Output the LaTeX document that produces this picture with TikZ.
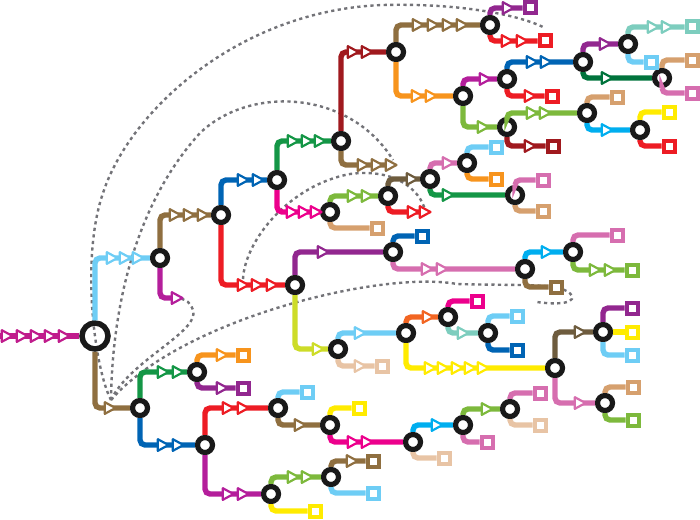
\documentclass[tikz,border=0pt]{standalone}
\usepackage{xcolor}
\usepackage{tikz}
\usetikzlibrary{calc}
\definecolor{cmag}{RGB}{192,28,140}
\definecolor{csky}{RGB}{110,205,245}
\definecolor{cbrown}{RGB}{143,111,64}
\definecolor{cdbrown}{RGB}{110,92,62}
\definecolor{cplum}{RGB}{180,30,155}
\definecolor{cblue}{RGB}{0,100,180}
\definecolor{cred}{RGB}{237,28,36}
\definecolor{cgreen}{RGB}{20,150,70}
\definecolor{cdgreen}{RGB}{0,115,60}
\definecolor{chot}{RGB}{236,0,140}
\definecolor{cdred}{RGB}{160,25,30}
\definecolor{corange}{RGB}{247,148,29}
\definecolor{cpurple}{RGB}{146,39,143}
\definecolor{colive}{RGB}{125,185,60}
\definecolor{ccyan}{RGB}{0,174,239}
\definecolor{cteal}{RGB}{125,205,190}
\definecolor{ctan}{RGB}{214,160,110}
\definecolor{cpink}{RGB}{214,110,175}
\definecolor{cyellow}{RGB}{255,235,0}
\definecolor{clime}{RGB}{205,220,40}
\definecolor{cpeach}{RGB}{232,196,165}
\definecolor{cflame}{RGB}{242,101,34}
\definecolor{dotgray}{RGB}{115,115,120}
\tikzset{
  split/.style={circle, draw=black!90, fill=white, line width=5.2pt,
    minimum size=15pt, inner sep=0pt},
  rootsplit/.style={circle, draw=black!90, line width=5.5pt,
    minimum size=26pt, inner sep=0pt},
  leaf/.style={rectangle, draw=#1, fill=white, line width=4pt,
    minimum size=11pt, inner sep=0pt},
  branch/.style={draw=#1, line width=5.4pt, rounded corners=5pt},
  transfer/.style={draw=dotgray, line width=2.4pt, dash pattern=on 3.2pt off 3.4pt},
  pics/chev/.style={code={
    \draw[draw=#1, fill=white, line width=2.2pt, line join=round]
      (-5.2,-5.8) -- (5.5,0) -- (-5.2,5.8) -- cycle;}}
}
\newcommand{\chevs}[3]{\foreach \mx in {#3}{\pic at (\mx,0 |- #2) {chev=#1};}}

\begin{document}
\begin{tikzpicture}[x=1pt, y=-1pt]
  \useasboundingbox (0,0) rectangle (700,519);

  % Ends of the transfers
  \coordinate (hub) at (111,400);
  \coordinate (in) at (0,336);
  \coordinate (a2) at (172,298);
  \coordinate (d2) at (386,165);
  \coordinate (p2) at (420,212);
  \coordinate (redtip) at (243,279);

  % Transfers
  \draw[transfer] (hub) .. controls (95,370) and (80,260) .. (103,193)
    .. controls (130,110) and (240,10) .. (383,5)
    .. controls (460,3) and (520,15) .. (545,28);
  \draw[transfer] (hub) .. controls (112,320) and (130,210) .. (200,133)
    .. controls (250,85) and (350,90) .. (393,160);
  \draw[transfer] (redtip) .. controls (245,240) and (290,185) .. (350,174)
    .. controls (395,168) and (420,190) .. (425,210);
  \draw[transfer] (hub) .. controls (130,360) and (200,332) .. (193,310)
    .. controls (190,302) and (186,300) .. (182,299);
  \draw[transfer] (hub) .. controls (180,320) and (380,270) .. (457,284)
    .. controls (520,286) and (565,282) .. (572,296)
    .. controls (575,305) and (550,304) .. (537,302);

  % Splits
  \node[rootsplit] (root) at (95,336) {};
  \node[split] (a) at (160,258) {};
  \node[split] (b) at (221,215) {};
  \node[split] (c) at (277,180) {};
  \node[split] (d) at (341,141) {};
  \node[split] (e) at (396,52) {};
  \node[split] (f) at (490,25) {};
  \node[split] (g) at (463,96) {};
  \node[split] (h) at (507,79) {};
  \node[split] (i) at (507,127) {};
  \node[split] (j) at (583,62) {};
  \node[split] (k) at (628,44) {};
  \node[split] (l) at (662,78) {};
  \node[split] (m) at (587,113) {};
  \node[split] (n) at (640,130) {};
  \node[split] (o) at (330,212) {};
  \node[split] (p) at (388,196) {};
  \node[split] (q) at (430,179) {};
  \node[split] (r) at (467,163) {};
  \node[split] (s) at (515,195) {};
  \node[split] (t) at (295,285) {};
  \node[split] (u) at (393,252) {};
  \node[split] (v) at (525,269) {};
  \node[split] (w) at (573,252) {};
  \node[split] (x) at (338,349) {};
  \node[split] (y) at (406,333) {};
  \node[split] (z) at (448,317) {};
  \node[split] (aa) at (488,333) {};
  \node[split] (ab) at (555,368) {};
  \node[split] (ac) at (603,332) {};
  \node[split] (ad) at (605,403) {};
  \node[split] (ba) at (140,408) {};
  \node[split] (bb) at (197,372) {};
  \node[split] (bc) at (205,445) {};
  \node[split] (bd) at (278,408) {};
  \node[split] (be) at (330,425) {};
  \node[split] (bf) at (413,442) {};
  \node[split] (bg) at (463,425) {};
  \node[split] (bh) at (510,409) {};
  \node[split] (bi) at (271,494) {};
  \node[split] (bj) at (331,477) {};

  % Leaves
  \node[leaf=cpurple] (f1) at (530,8) {};
  \node[leaf=cred] (f2) at (545,41) {};
  \node[leaf=cred] (h2) at (552,96) {};
  \node[leaf=cteal] (k1) at (692,27) {};
  \node[leaf=csky] (k2) at (651,62) {};
  \node[leaf=ctan] (l1) at (692,60) {};
  \node[leaf=cpink] (l2) at (692,93) {};
  \node[leaf=cdred] (i2) at (553,146) {};
  \node[leaf=ctan] (m1) at (617,97) {};
  \node[leaf=cyellow] (n1) at (669,112) {};
  \node[leaf=cred] (n2) at (669,146) {};
  \node[leaf=csky] (r1) at (496,147) {};
  \node[leaf=corange] (r2) at (496,179) {};
  \node[leaf=cpink] (s1) at (543,180) {};
  \node[leaf=ctan] (s2) at (543,211) {};
  \node[leaf=ctan] (o2) at (377,228) {};
  \node[leaf=cblue] (u1) at (422,236) {};
  \node[leaf=cbrown] (v2) at (556,287) {};
  \node[leaf=cpink] (w1) at (617,235) {};
  \node[leaf=colive] (w2) at (632,270) {};
  \node[leaf=cpeach] (x2) at (382,366) {};
  \node[leaf=chot] (z1) at (477,301) {};
  \node[leaf=csky] (aa1) at (517,316) {};
  \node[leaf=cblue] (aa2) at (517,350) {};
  \node[leaf=cpurple] (ac1) at (632,308) {};
  \node[leaf=cyellow] (ac2) at (632,332) {};
  \node[leaf=csky] (ac3) at (632,355) {};
  \node[leaf=ctan] (ad1) at (633,387) {};
  \node[leaf=colive] (ad2) at (633,420) {};
  \node[leaf=corange] (bb1) at (243,355) {};
  \node[leaf=cpurple] (bb2) at (243,388) {};
  \node[leaf=csky] (bd1) at (307,392) {};
  \node[leaf=cyellow] (be1) at (359,408) {};
  \node[leaf=cpeach] (bf2) at (444,458) {};
  \node[leaf=cpink] (bg2) at (487,442) {};
  \node[leaf=cpink] (bh1) at (540,393) {};
  \node[leaf=cpeach] (bh2) at (540,425) {};
  \node[leaf=cbrown] (bj1) at (373,461) {};
  \node[leaf=csky] (bj2) at (373,493) {};
  \node[leaf=cyellow] (bi2) at (315,511) {};

  % Branches
  \draw[branch=cmag] (in) -- (root);  \chevs{cmag}{root}{7,22,36,50,64}
  \draw[branch=csky] (root) |- (a);   \chevs{csky}{a}{112,125,138}
  \draw[branch=cbrown] (root) |- (ba); \chevs{cbrown}{ba}{110}
  \draw[branch=cbrown] (a) |- (b);    \chevs{cbrown}{b}{175,189,203}
  \draw[branch=cplum] (a) |- (a2);    \chevs{cplum}{a2}{177}
  \draw[branch=cblue] (b) |- (c);     \chevs{cblue}{c}{243,258}
  \draw[branch=cred] (b) |- (t);      \chevs{cred}{t}{243,257,272}
  \draw[branch=cgreen] (c) |- (d);    \chevs{cgreen}{d}{293,307,320}
  \draw[branch=chot] (c) |- (o);      \chevs{chot}{o}{292,304,316}
  \draw[branch=cdred] (d) |- (e);     \chevs{cdred}{e}{353,367}
  \draw[branch=cbrown] (d) |- (d2);   \chevs{cbrown}{d2}{363,377,391}
  \draw[branch=cbrown] (e) |- (f);    \chevs{cbrown}{f}{418,433,448,462}
  \draw[branch=corange] (e) |- (g);   \chevs{corange}{g}{417,431}
  \draw[branch=cpurple] (f) |- (f1);  \chevs{cpurple}{f1}{508}
  \draw[branch=cred] (f) |- (f2);     \chevs{cred}{f2}{507,522}
  \draw[branch=cplum] (g) |- (h);     \chevs{cplum}{h}{485}
  \draw[branch=colive] (g) |- (i);    \chevs{colive}{i}{483}
  \draw[branch=cblue] (h) |- (j);     \chevs{cblue}{j}{532,546}
  \draw[branch=cred] (h) |- (h2);     \chevs{cred}{h2}{530}
  \draw[branch=cpurple] (j) |- (k);   \chevs{cpurple}{k}{605}
  \draw[branch=cdgreen] (j) |- (l);   \chevs{cdgreen}{l}{607}
  \draw[branch=cteal] (k) |- (k1);    \chevs{cteal}{k1}{653,667}
  \draw[branch=csky] (k) |- (k2);
  \draw[branch=ctan] (l) |- (l1);
  \draw[branch=cpink] (l) |- (l2);
  \draw[branch=colive] (i) |- (m);    \chevs{colive}{m}{532,545}
  \draw[branch=cdred] (i) |- (i2);    \chevs{cdred}{i2}{530}
  \draw[branch=ctan] (m) |- (m1);
  \draw[branch=ccyan] (m) |- (n);     \chevs{ccyan}{n}{607}
  \draw[branch=cyellow] (n) |- (n1);
  \draw[branch=cred] (n) |- (n2);
  \draw[branch=colive] (o) |- (p);    \chevs{colive}{p}{353,367}
  \draw[branch=ctan] (o) |- (o2);
  \draw[branch=cdbrown] (p) |- (q);   \chevs{cdbrown}{q}{412}
  \draw[branch=cred] (p) |- (p2);     \chevs{cred}{p2}{413,425}
  \draw[branch=cpink] (q) |- (r);     \chevs{cpink}{r}{448}
  \draw[branch=cgreen] (q) |- (s);    \chevs{cgreen}{s}{448}
  \draw[branch=csky] (r) |- (r1);
  \draw[branch=corange] (r) |- (r2);
  \draw[branch=cpink] (s) |- (s1);
  \draw[branch=ctan] (s) |- (s2);
  \draw[branch=cpurple] (t) |- (u);   \chevs{cpurple}{u}{323}
  \draw[branch=clime] (t) |- (x);     \chevs{clime}{x}{318}
  \draw[branch=cblue] (u) |- (u1);
  \draw[branch=cpink] (u) |- (v);     \chevs{cpink}{v}{427,442}
  \draw[branch=ccyan] (v) |- (w);     \chevs{ccyan}{w}{547}
  \draw[branch=cbrown] (v) |- (v2);
  \draw[branch=cpink] (w) |- (w1);
  \draw[branch=colive] (w) |- (w2);   \chevs{colive}{w2}{595,610}
  \draw[branch=csky] (x) |- (y);      \chevs{csky}{y}{360}
  \draw[branch=cpeach] (x) |- (x2);   \chevs{cpeach}{x2}{360}
  \draw[branch=cflame] (y) |- (z);    \chevs{cflame}{z}{428}
  \draw[branch=cyellow] (y) |- (ab);  \chevs{cyellow}{ab}{430,443,457,470,483}
  \draw[branch=chot] (z) |- (z1);
  \draw[branch=cteal] (z) |- (aa);    \chevs{cteal}{aa}{463}
  \draw[branch=csky] (aa) |- (aa1);
  \draw[branch=cblue] (aa) |- (aa2);
  \draw[branch=cdbrown] (ab) |- (ac); \chevs{cdbrown}{ac}{580}
  \draw[branch=cpink] (ab) |- (ad);   \chevs{cpink}{ad}{580}
  \draw[branch=cpurple] (ac) |- (ac1);
  \draw[branch=cyellow] (ac) -- (ac2);
  \draw[branch=csky] (ac) |- (ac3);
  \draw[branch=ctan] (ad) |- (ad1);
  \draw[branch=colive] (ad) |- (ad2);
  \draw[branch=cgreen] (ba) |- (bb);  \chevs{cgreen}{bb}{163,178}
  \draw[branch=cblue] (ba) |- (bc);   \chevs{cblue}{bc}{163,178}
  \draw[branch=corange] (bb) |- (bb1); \chevs{corange}{bb1}{222}
  \draw[branch=cpurple] (bb) |- (bb2); \chevs{cpurple}{bb2}{222}
  \draw[branch=cred] (bc) |- (bd);    \chevs{cred}{bd}{228,243}
  \draw[branch=cplum] (bc) |- (bi);   \chevs{cplum}{bi}{228,243}
  \draw[branch=csky] (bd) |- (bd1);
  \draw[branch=cbrown] (bd) |- (be);  \chevs{cbrown}{be}{300}
  \draw[branch=cyellow] (be) |- (be1);
  \draw[branch=chot] (be) |- (bf);    \chevs{chot}{bf}{353,367}
  \draw[branch=ccyan] (bf) |- (bg);   \chevs{ccyan}{bg}{437}
  \draw[branch=cpeach] (bf) |- (bf2);
  \draw[branch=colive] (bg) |- (bh);  \chevs{colive}{bh}{487}
  \draw[branch=cpink] (bg) |- (bg2);
  \draw[branch=cpink] (bh) |- (bh1);
  \draw[branch=cpeach] (bh) |- (bh2);
  \draw[branch=colive] (bi) |- (bj);  \chevs{colive}{bj}{293,307}
  \draw[branch=cyellow] (bi) |- (bi2);
  \draw[branch=cbrown] (bj) |- (bj1); \chevs{cbrown}{bj1}{352}
  \draw[branch=csky] (bj) |- (bj2);
\end{tikzpicture}
\end{document}
